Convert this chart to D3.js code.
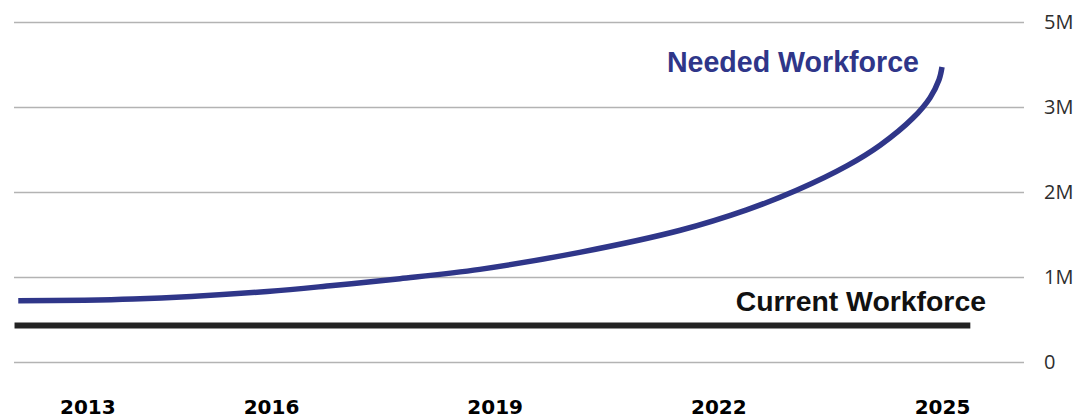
<!DOCTYPE html>
<html>
<head>
<meta charset="utf-8">
<script src="https://cdn.jsdelivr.net/npm/d3@7"></script>
<style>
  html, body { margin: 0; padding: 0; background: #fff; }
  svg { display: block; }
</style>
</head>
<body>
<svg id="chart" width="1078" height="418"></svg>
<script>
// ---- data ----
const yearTicks = [2013, 2016, 2019, 2022, 2025];
const yTickValues = [0, 1, 2, 3, 4];           // millions
const yTickLabels = ["0", "1M", "2M", "3M", "5M"];

const neededYears  = [2012.61, 2014.15, 2015.95, 2016.83, 2017.73, 2018.80, 2020.14, 2021.49, 2022.38, 2023.05, 2023.73, 2024.17, 2024.61, 2024.84, 2024.96, 2025.0];
const neededValues = [0.72, 0.74, 0.83, 0.90, 0.98, 1.09, 1.29, 1.55, 1.79, 2.02, 2.31, 2.55, 2.87, 3.11, 3.32, 3.47];

const currentYears  = [2012.56, 2025.38];
const currentValues = [0.43, 0.43];

const neededLabel = "Needed Workforce";
const currentLabel = "Current Workforce";

// ---- layout ----
const svg = d3.select("#chart");
const x = d3.scaleLinear().domain([2016, 2025]).range([271, 942]);
const y = d3.scaleLinear().domain([0, 4]).range([362, 22]);
const gridLeft = 14, gridRight = 1024;

// grid lines + right labels
const yAxis = d3.axisRight(y)
  .tickValues(yTickValues)
  .tickFormat((d, i) => yTickLabels[i])
  .tickSize(gridRight - gridLeft)
  .tickPadding(20);
const gy = svg.append("g")
  .attr("transform", `translate(${gridLeft},0)`)
  .call(yAxis);
gy.select(".domain").remove();
gy.selectAll(".tick line").attr("stroke", "#b3b3b3").attr("stroke-width", 1.5);
gy.selectAll(".tick text")
  .attr("fill", "#2e2e2e")
  .style("font-family", "'Open Sans', sans-serif")
  .style("font-size", "20px")
  .style("font-weight", 400);

// x labels
const xAxis = d3.axisBottom(x).tickValues(yearTicks).tickFormat(d3.format("d")).tickSize(0).tickPadding(0);
const gx = svg.append("g").attr("transform", "translate(0,414)").call(xAxis);
gx.select(".domain").remove();
gx.selectAll(".tick text")
  .attr("dy", 0)
  .attr("dx", (d, i) => i === 0 ? 40 : 0)
  .attr("fill", "#000")
  .style("font-family", "'DejaVu Sans', sans-serif")
  .style("font-size", "20px")
  .style("font-weight", 700);

// current workforce line
const curData = currentYears.map((d, i) => [d, currentValues[i]]);
svg.append("path")
  .datum(curData)
  .attr("fill", "none")
  .attr("stroke", "#232323")
  .attr("stroke-width", 6)
  .attr("d", d3.line().x(d => x(d[0])).y(d => y(d[1])));

// needed workforce line
const needData = neededYears.map((d, i) => [d, neededValues[i]]);
svg.append("path")
  .datum(needData)
  .attr("fill", "none")
  .attr("stroke", "#2f3689")
  .attr("stroke-width", 5.5)
  .attr("d", d3.line().curve(d3.curveCatmullRom.alpha(0.5)).x(d => x(d[0])).y(d => y(d[1])));

// labels
svg.append("text")
  .attr("x", 919).attr("y", 72)
  .attr("text-anchor", "end")
  .attr("fill", "#2f3689")
  .style("font-family", "'Liberation Sans', Arial, sans-serif")
  .style("font-size", "28.6px")
  .style("font-weight", 700)
  .text(neededLabel);

svg.append("text")
  .attr("x", 986).attr("y", 311)
  .attr("text-anchor", "end")
  .attr("fill", "#111")
  .style("font-family", "'Liberation Sans', Arial, sans-serif")
  .style("font-size", "28.4px")
  .style("font-weight", 700)
  .text(currentLabel);
</script>
</body>
</html>
